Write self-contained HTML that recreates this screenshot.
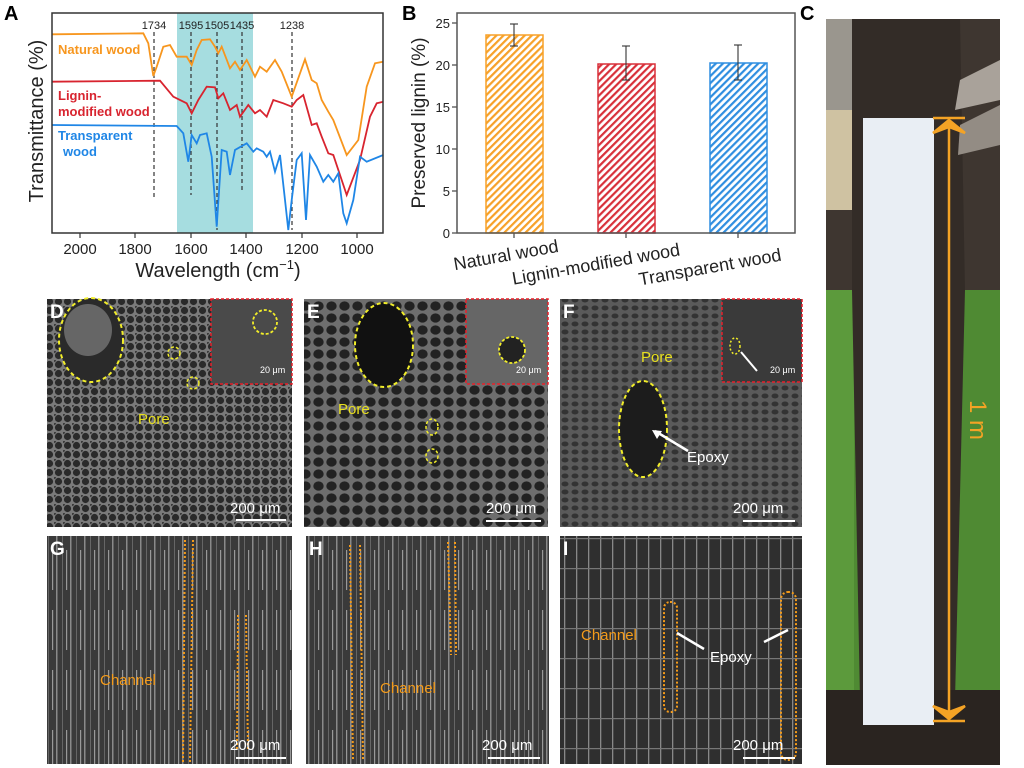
<!DOCTYPE html>
<html><head><meta charset="utf-8"><style>
html,body{margin:0;padding:0;background:#fff;}
svg{display:block;font-family:"Liberation Sans",Arial,sans-serif;}
</style></head><body>
<svg width="1024" height="768" viewBox="0 0 1024 768" xmlns="http://www.w3.org/2000/svg">
<defs>
<pattern id="hO" width="5" height="5" patternUnits="userSpaceOnUse" patternTransform="rotate(45)"><rect width="5" height="5" fill="#fff"/><rect width="2.2" height="5" fill="#f7a128"/></pattern>
<pattern id="hR" width="5" height="5" patternUnits="userSpaceOnUse" patternTransform="rotate(45)"><rect width="5" height="5" fill="#fff"/><rect width="2.2" height="5" fill="#d8303a"/></pattern>
<pattern id="hB" width="5" height="5" patternUnits="userSpaceOnUse" patternTransform="rotate(45)"><rect width="5" height="5" fill="#fff"/><rect width="2.2" height="5" fill="#2f8ee0"/></pattern>
<pattern id="cells" width="9" height="9" patternUnits="userSpaceOnUse"><rect width="9" height="9" fill="#7a7a7a"/><circle cx="4.5" cy="4.5" r="3.6" fill="#2a2a2a"/><circle cx="0" cy="0" r="2" fill="#3a3a3a"/></pattern>
<pattern id="cellsBig" width="13" height="12" patternUnits="userSpaceOnUse"><rect width="13" height="12" fill="#6e6e6e"/><ellipse cx="6.5" cy="6" rx="5.2" ry="4.6" fill="#222"/></pattern>
<pattern id="cellsF" width="10" height="8" patternUnits="userSpaceOnUse"><rect width="10" height="8" fill="#5a5a5a"/><ellipse cx="5" cy="4" rx="3.5" ry="2.5" fill="#333"/></pattern>
<pattern id="fib" width="14" height="60" patternUnits="userSpaceOnUse"><rect width="14" height="60" fill="#3a3a3a"/><rect x="0" width="1.5" height="60" fill="#8a8a8a"/><rect x="6" width="1" height="60" fill="#666"/><rect x="10" y="10" width="1.2" height="40" fill="#999"/></pattern>
<pattern id="fibI" width="12" height="30" patternUnits="userSpaceOnUse"><rect width="12" height="30" fill="#2f2f2f"/><rect x="0" width="1.3" height="30" fill="#888"/><rect x="0" y="28" width="12" height="1.2" fill="#777"/></pattern>
</defs>

<!-- PANEL A -->
<text x="4" y="20" font-size="20" font-weight="bold">A</text>
<rect x="177" y="13" width="76" height="220" fill="#a6dde0"/>
<g stroke="#333" stroke-width="1.2" stroke-dasharray="4,3">
<line x1="154" y1="32" x2="154" y2="197"/><line x1="191" y1="32" x2="191" y2="195"/><line x1="217" y1="32" x2="217" y2="230"/><line x1="242" y1="32" x2="242" y2="193"/><line x1="292" y1="32" x2="292" y2="230"/>
</g>
<g font-size="11" fill="#222" text-anchor="middle">
<text x="154" y="29">1734</text><text x="191" y="29">1595</text><text x="217" y="29">1505</text><text x="242" y="29">1435</text><text x="292" y="29">1238</text>
</g>
<polyline fill="none" stroke="#f7961e" stroke-width="1.8" points="51.7,34.3 143.3,33.3 148.3,43.3 153.3,76 156.7,66.7 163.3,46.7 170,45 176.7,56.7 186.7,56.7 191.7,65 196.7,50 201.7,40 210,39.3 215,46.7 218.3,53.3 221.7,46.7 230,68.3 235,61.7 240,70 246.7,60 255,76.7 260,66.7 266.7,71.7 275,60 281.7,71.7 291.7,96.7 300,73.3 305,59.3 311.7,80 316.7,83.3 321.7,100 328.3,111.7 333.3,120 346.7,155 358.3,140 366.7,86.7 375,63.3 383.3,61.7"/>
<polyline fill="none" stroke="#d8242f" stroke-width="1.8" points="51.7,81.7 160,80.7 173.3,96.7 186.7,103.3 191.7,113.3 198.3,100 206.7,86.7 215,87.3 218.3,98.3 223.3,93.3 230,110 236.7,105 240,116.7 248.3,105 255,113.3 260,110 266.7,116.7 273.3,100 283.3,103.3 291.7,106.7 296.7,100 303.3,95 311.7,125 316.7,123.3 321.7,136.7 328.3,153.3 333.3,155 346.7,195 360,160 370,116.7 376.7,103.3 383.3,101.7"/>
<polyline fill="none" stroke="#1f86e6" stroke-width="1.8" points="51.7,125 176.7,126 183.3,133.3 188.3,161.7 191.7,135 196.7,143.3 200,135 206.7,133.3 211.7,156.7 216.7,226.7 221.7,150 226.7,151.7 230,175 235,150 246.7,143.3 253.3,151.7 256.7,148.3 263.3,151.7 266.7,156.7 270,151.7 275,171.7 280,155 285,200 288.3,230 291.7,200 296.7,160 301.7,153.3 306,220 310,155 316.7,166.7 323.3,181.7 328.3,175 333.3,181.7 338.3,173.3 343.3,213.3 346.7,223.3 353.3,200 360,156.7 366.7,161.7 383.3,155"/>
<g font-size="13" font-weight="bold">
<text x="58" y="54" fill="#f7961e">Natural wood</text>
<text x="58" y="100" fill="#d8242f">Lignin-</text><text x="58" y="116" fill="#d8242f">modified wood</text>
<text x="58" y="140" fill="#1f86e6">Transparent</text><text x="63" y="156" fill="#1f86e6">wood</text>
</g>
<rect x="52" y="13" width="331" height="220" fill="none" stroke="#333" stroke-width="1.5"/>
<g stroke="#333" stroke-width="1.2"><line x1="80" y1="233" x2="80" y2="238"/><line x1="135" y1="233" x2="135" y2="238"/><line x1="191" y1="233" x2="191" y2="238"/><line x1="246" y1="233" x2="246" y2="238"/><line x1="302" y1="233" x2="302" y2="238"/><line x1="357" y1="233" x2="357" y2="238"/></g>
<g font-size="15" fill="#222" text-anchor="middle">
<text x="80" y="254">2000</text><text x="135" y="254">1800</text><text x="191" y="254">1600</text><text x="246" y="254">1400</text><text x="302" y="254">1200</text><text x="357" y="254">1000</text>
</g>
<text x="218" y="277" font-size="20" text-anchor="middle" fill="#222">Wavelength (cm<tspan font-size="13" dy="-8">−1</tspan><tspan dy="8">)</tspan></text>
<text transform="translate(43,121) rotate(-90)" font-size="20" text-anchor="middle" fill="#222">Transmittance (%)</text>

<!-- PANEL B -->
<text x="402" y="20" font-size="20" font-weight="bold">B</text>
<rect x="486" y="35" width="57" height="198" fill="url(#hO)" stroke="#f7a128" stroke-width="1.5"/>
<rect x="598" y="64" width="57" height="169" fill="url(#hR)" stroke="#d8303a" stroke-width="1.5"/>
<rect x="710" y="63" width="57" height="170" fill="url(#hB)" stroke="#2f8ee0" stroke-width="1.5"/>
<g stroke="#333" stroke-width="1.1">
<line x1="514" y1="24" x2="514" y2="46"/><line x1="510" y1="24" x2="518" y2="24"/><line x1="510" y1="46" x2="518" y2="46"/>
<line x1="626" y1="46" x2="626" y2="80"/><line x1="622" y1="46" x2="630" y2="46"/><line x1="622" y1="80" x2="630" y2="80"/>
<line x1="738" y1="45" x2="738" y2="80"/><line x1="734" y1="45" x2="742" y2="45"/><line x1="734" y1="80" x2="742" y2="80"/>
<line x1="514" y1="233" x2="514" y2="238"/><line x1="626" y1="233" x2="626" y2="238"/><line x1="738" y1="233" x2="738" y2="238"/>
<line x1="452" y1="233" x2="457" y2="233"/><line x1="452" y1="191" x2="457" y2="191"/><line x1="452" y1="149" x2="457" y2="149"/><line x1="452" y1="107" x2="457" y2="107"/><line x1="452" y1="65" x2="457" y2="65"/><line x1="452" y1="23" x2="457" y2="23"/>
</g>
<rect x="457" y="13" width="338" height="220" fill="none" stroke="#555" stroke-width="1.5"/>
<g font-size="13" fill="#222" text-anchor="end">
<text x="450" y="238">0</text><text x="450" y="196">5</text><text x="450" y="154">10</text><text x="450" y="112">15</text><text x="450" y="70">20</text><text x="450" y="28">25</text>
</g>
<text transform="translate(425,123) rotate(-90)" font-size="19" text-anchor="middle" fill="#222">Preserved lignin (%)</text>
<g font-size="18" fill="#222" text-anchor="middle">
<text transform="translate(507,261) rotate(-10)">Natural wood</text>
<text transform="translate(597,270) rotate(-10)">Lignin-modified wood</text>
<text transform="translate(711,273) rotate(-10)">Transparent wood</text>
</g>

<!-- PANEL C -->
<text x="800" y="20" font-size="20" font-weight="bold">C</text>
<rect x="826" y="19" width="174" height="746" fill="#3e3630"/>
<rect x="826" y="19" width="30" height="140" fill="#9a968e"/>
<rect x="826" y="110" width="30" height="100" fill="#cfc2a2"/>
<rect x="826" y="290" width="174" height="400" fill="#4f8a33"/>
<rect x="826" y="290" width="28" height="400" fill="#5c9a3c"/>
<path d="M852,19 L960,19 L965,290 L955,700 L860,700 L852,290 Z" fill="#332c27"/>
<path d="M960,80 L1000,60 L1000,100 L955,110 Z" fill="#a9a29a"/>
<path d="M960,125 L1000,105 L1000,145 L958,155 Z" fill="#938c84"/>
<rect x="826" y="690" width="174" height="75" fill="#2a2420"/>
<rect x="863" y="118" width="71" height="607" fill="#e9eef4"/>
<g stroke="#f4a325" stroke-width="2.5" fill="#f4a325">
<line x1="949" y1="120" x2="949" y2="720"/>
<line x1="933" y1="118" x2="965" y2="118"/><line x1="933" y1="721" x2="965" y2="721"/>
<path d="M949,120 L933,133 L949,127 L965,133 Z"/>
<path d="M949,719 L933,706 L949,712 L965,706 Z"/>
</g>
<text transform="translate(970,420) rotate(90)" font-size="24" fill="#f4a325" text-anchor="middle">1 m</text>

<!-- SEM D -->
<rect x="47" y="299" width="245" height="228" fill="url(#cells)"/>
<ellipse cx="91" cy="340" rx="32" ry="42" fill="#2a2a2a" stroke="#f2ee2a" stroke-width="2" stroke-dasharray="4,3"/>
<ellipse cx="88" cy="330" rx="24" ry="26" fill="#666"/>
<rect x="211" y="299" width="81" height="85" fill="#4a4a4a" stroke="#e8202a" stroke-width="1.5" stroke-dasharray="3,2"/>
<circle cx="265" cy="322" r="12" fill="none" stroke="#f2ee2a" stroke-width="1.8" stroke-dasharray="3,2"/>
<circle cx="174" cy="353" r="6" fill="none" stroke="#f2ee2a" stroke-width="1.5" stroke-dasharray="3,2"/>
<circle cx="193" cy="383" r="6" fill="none" stroke="#f2ee2a" stroke-width="1.5" stroke-dasharray="3,2"/>
<text x="138" y="424" font-size="15" fill="#e8e020">Pore</text>
<text x="260" y="373" font-size="9" fill="#fff">20 μm</text>
<text x="230" y="513" font-size="15" fill="#fff">200 μm</text>
<rect x="236" y="519" width="50" height="2" fill="#fff"/>
<text x="50" y="318" font-size="19" font-weight="bold" fill="#fff">D</text>

<!-- SEM E -->
<rect x="304" y="299" width="244" height="228" fill="url(#cellsBig)"/>
<ellipse cx="384" cy="345" rx="29" ry="42" fill="#111" stroke="#f2ee2a" stroke-width="2" stroke-dasharray="4,3"/>
<rect x="466" y="299" width="82" height="85" fill="#666" stroke="#e8202a" stroke-width="1.5" stroke-dasharray="3,2"/>
<circle cx="512" cy="350" r="13" fill="#222" stroke="#f2ee2a" stroke-width="1.8" stroke-dasharray="3,2"/>
<ellipse cx="432" cy="427" rx="6" ry="8" fill="none" stroke="#f2ee2a" stroke-width="1.5" stroke-dasharray="3,2"/>
<ellipse cx="432" cy="456" rx="6" ry="7" fill="none" stroke="#f2ee2a" stroke-width="1.5" stroke-dasharray="3,2"/>
<text x="338" y="414" font-size="15" fill="#e8e020">Pore</text>
<text x="516" y="373" font-size="9" fill="#fff">20 μm</text>
<text x="486" y="513" font-size="15" fill="#fff">200 μm</text>
<rect x="486" y="520" width="55" height="2" fill="#fff"/>
<text x="307" y="318" font-size="19" font-weight="bold" fill="#fff">E</text>

<!-- SEM F -->
<rect x="560" y="299" width="242" height="228" fill="url(#cellsF)"/>
<ellipse cx="643" cy="429" rx="24" ry="48" fill="#1c1c1c" stroke="#f2ee2a" stroke-width="2" stroke-dasharray="4,3"/>
<rect x="722" y="299" width="80" height="83" fill="#3a3a3a" stroke="#e8202a" stroke-width="1.5" stroke-dasharray="3,2"/>
<line x1="757" y1="371" x2="741" y2="352" stroke="#fff" stroke-width="2"/>
<ellipse cx="735" cy="346" rx="5" ry="8" fill="none" stroke="#f2ee2a" stroke-width="1.5" stroke-dasharray="2,2"/>
<line x1="688" y1="451" x2="655" y2="431" stroke="#fff" stroke-width="2.5"/>
<path d="M652,430 L662,431 L657,439 Z" fill="#fff"/>
<text x="687" y="462" font-size="15" fill="#fff">Epoxy</text>
<text x="641" y="362" font-size="15" fill="#e8e020">Pore</text>
<text x="770" y="373" font-size="9" fill="#fff">20 μm</text>
<text x="733" y="513" font-size="15" fill="#fff">200 μm</text>
<rect x="743" y="520" width="52" height="2" fill="#fff"/>
<text x="563" y="318" font-size="19" font-weight="bold" fill="#fff">F</text>

<!-- SEM G -->
<rect x="47" y="536" width="245" height="228" fill="url(#fib)"/>
<g fill="none" stroke="#f49b1a" stroke-width="2" stroke-dasharray="2,2">
<path d="M185,540 L183,762"/><path d="M193,540 L190,762"/>
<path d="M238,615 L237,750"/><path d="M246,615 L248,750"/>
</g>
<text x="100" y="685" font-size="15" fill="#f49b1a">Channel</text>
<text x="230" y="750" font-size="15" fill="#fff">200 μm</text>
<rect x="236" y="757" width="50" height="2" fill="#fff"/>
<text x="50" y="555" font-size="19" font-weight="bold" fill="#fff">G</text>

<!-- SEM H -->
<rect x="306" y="536" width="243" height="228" fill="url(#fib)"/>
<g fill="none" stroke="#f49b1a" stroke-width="2" stroke-dasharray="2,2">
<path d="M350,545 L353,760"/><path d="M360,545 L363,760"/>
<path d="M448,542 L451,655"/><path d="M455,542 L456,655"/>
</g>
<text x="380" y="693" font-size="15" fill="#f49b1a">Channel</text>
<text x="482" y="750" font-size="15" fill="#fff">200 μm</text>
<rect x="488" y="757" width="52" height="2" fill="#fff"/>
<text x="309" y="555" font-size="19" font-weight="bold" fill="#fff">H</text>

<!-- SEM I -->
<rect x="560" y="536" width="242" height="228" fill="url(#fibI)"/>
<g fill="none" stroke="#f49b1a" stroke-width="2" stroke-dasharray="2,2">
<rect x="664" y="602" width="13" height="110" rx="6"/>
<rect x="781" y="592" width="15" height="168" rx="7"/>
</g>
<line x1="704" y1="649" x2="677" y2="633" stroke="#fff" stroke-width="2.5"/>
<line x1="764" y1="642" x2="788" y2="630" stroke="#fff" stroke-width="2.5"/>
<text x="710" y="662" font-size="15" fill="#fff">Epoxy</text>
<text x="581" y="640" font-size="15" fill="#f49b1a">Channel</text>
<text x="733" y="750" font-size="15" fill="#fff">200 μm</text>
<rect x="743" y="757" width="52" height="2" fill="#fff"/>
<text x="563" y="555" font-size="19" font-weight="bold" fill="#fff">I</text>
</svg>
</body></html>
